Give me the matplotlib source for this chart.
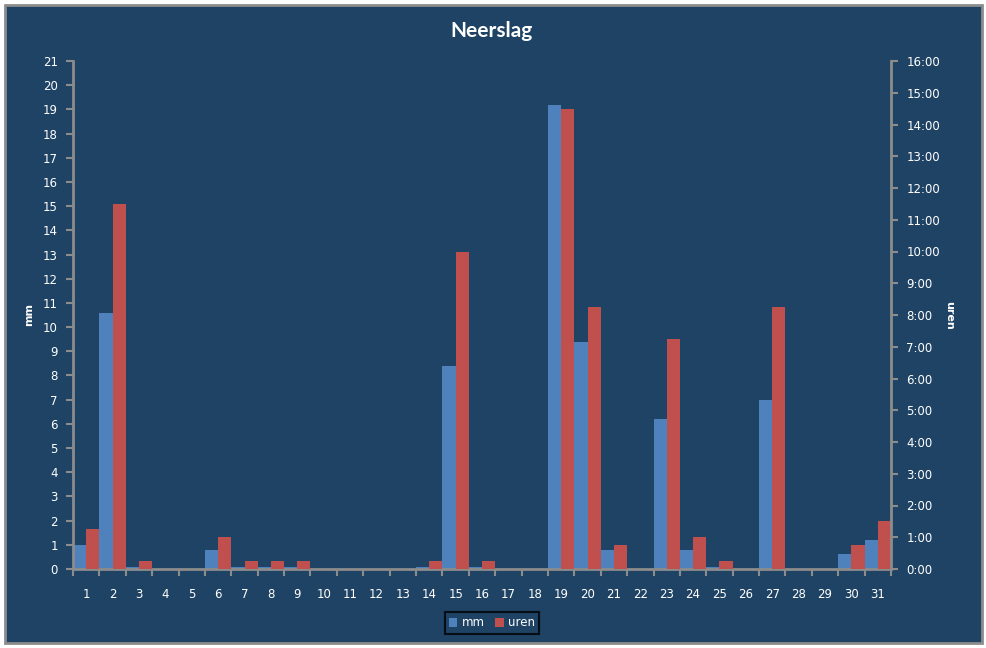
import matplotlib
matplotlib.use("Agg")
import matplotlib.pyplot as plt
from matplotlib.patches import Rectangle
from matplotlib.ticker import FuncFormatter, MultipleLocator
import numpy as np

# neerslag per dag (mm) en duur (uren)
dagen = list(range(1, 32))
mm = [1.0, 10.6, 0.1, 0, 0, 0.8, 0.1, 0.1, 0.1, 0, 0, 0, 0, 0.1, 8.4, 0.1,
      0, 0, 19.2, 9.4, 0.8, 0, 6.2, 0.8, 0.1, 0, 7.0, 0, 0, 0.6, 1.2]
uren = [1.25, 11.5, 0.25, 0, 0, 1.0, 0.25, 0.25, 0.25, 0, 0, 0, 0, 0.25, 10.0, 0.25,
        0, 0, 14.5, 8.25, 0.75, 0, 7.25, 1.0, 0.25, 0, 8.25, 0, 0, 0.75, 1.5]

bg = '#1f4364'
blauw = '#4f81bd'
rood = '#c0504d'
grijs = '#8c8c8c'
font = ['Lato', 'DejaVu Sans']

fig = plt.figure(figsize=(9.87, 6.48), dpi=100, facecolor='white')
fig.patches.append(Rectangle((5 / 987, 5 / 648), 977 / 987, 638 / 648, transform=fig.transFigure,
                             facecolor=bg, edgecolor=grijs, linewidth=2, zorder=-10))

ax = fig.add_axes([73 / 987, 79 / 648, 818 / 987, 508 / 648])
ax.set_facecolor(bg)
ax2 = ax.twinx()

x = np.array(dagen)
ax.bar(x - 0.5, mm, width=0.5, align='edge', color=blauw, label='mm', zorder=2)
ax2.bar(x, uren, width=0.5, align='edge', color=rood, label='uren', zorder=2)

ax.set_xlim(0.5, 31.5)
ax.set_ylim(0, 21)
ax2.set_ylim(0, 16)
ax.yaxis.set_major_locator(MultipleLocator(1))
ax2.yaxis.set_major_locator(MultipleLocator(1))
ax2.yaxis.set_major_formatter(FuncFormatter(lambda v, p: '%d:00' % int(round(v))))

# x ticks: marks between categories, labels centered
ax.set_xticks(np.arange(0.5, 32, 1))
ax.set_xticklabels([])
ax.set_xticks(x, minor=True)
ax.set_xticklabels([str(d) for d in dagen], minor=True)
ax.tick_params(axis='x', which='minor', length=0, pad=14, labelsize=8.5, labelcolor='white')
ax.tick_params(axis='x', which='major', length=5, width=1.5, color=grijs)
ax.tick_params(axis='y', length=5, width=1.5, color=grijs, labelcolor='white', labelsize=8.5, pad=6)
ax2.tick_params(axis='y', length=5, width=1.5, color=grijs, labelcolor='white', labelsize=8.5, pad=6)

for a in (ax, ax2):
    for s in a.spines.values():
        s.set_visible(False)
ax.spines['left'].set_visible(True)
ax.spines['bottom'].set_visible(True)
ax2.spines['right'].set_visible(True)
for s in (ax.spines['left'], ax.spines['bottom'], ax2.spines['right']):
    s.set_color(grijs)
    s.set_linewidth(2)

ax.set_ylabel('mm', color='white', fontsize=8, fontweight='bold', labelpad=6)
ax2.set_ylabel('uren', color='white', fontsize=8, fontweight='bold', rotation=-90, labelpad=10)

fig.text(492 / 987, 1 - 31 / 648, 'Neerslag', ha='center', va='center', color='white',
         fontsize=15, fontweight='bold', family=font)

h1, l1 = ax.get_legend_handles_labels()
h2, l2 = ax2.get_legend_handles_labels()
leg = fig.legend(h1 + h2, l1 + l2, loc='center', bbox_to_anchor=(492 / 987, 1 - 623 / 648),
                 ncol=2, frameon=True, fancybox=False, fontsize=8.5, handlelength=0.7,
                 handleheight=0.7, handletextpad=0.4, columnspacing=0.9, borderpad=0.35)
leg.get_frame().set_facecolor(bg)
leg.get_frame().set_edgecolor('black')
leg.get_frame().set_linewidth(1.5)
for t in leg.get_texts():
    t.set_color('white')

fig.savefig('out.png', dpi=100, facecolor=fig.get_facecolor())
